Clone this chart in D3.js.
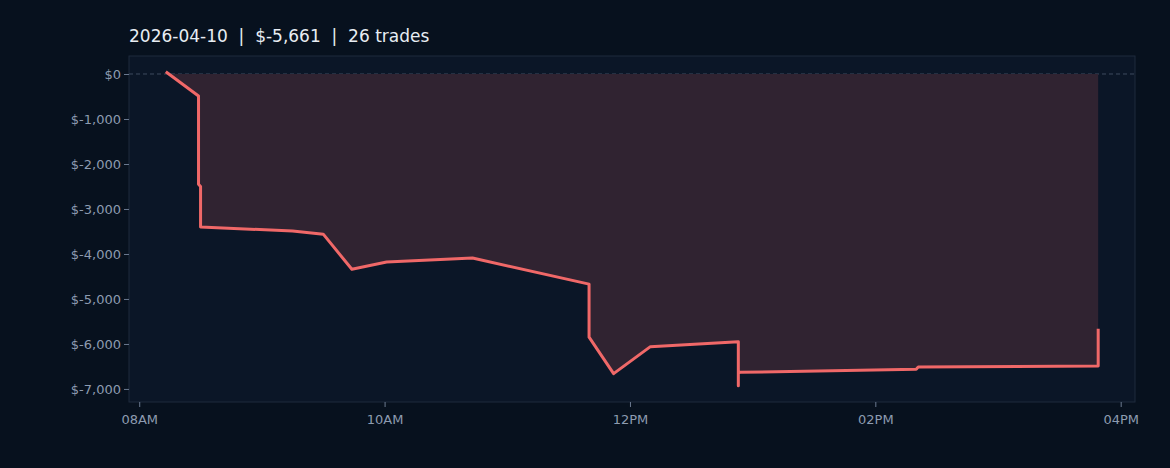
<!DOCTYPE html>
<html><head><meta charset="utf-8">
<script src="https://cdn.jsdelivr.net/npm/d3@7"></script>
<style>
body{margin:0;background:#07111e;}
text{font-family:"DejaVu Sans",sans-serif;}
</style></head><body>
<svg id="chart" width="1170" height="468"></svg>
<script>
// trade times (HH:MM) and cumulative P&L
var times = ["08:13","08:29","08:29","08:29","08:30","08:30","09:15","09:30","09:44","10:01","10:43",
  "11:40","11:40","11:52","12:10","12:53","12:53","12:53","12:54","14:20","14:21","14:21","15:49","15:49","15:49","15:49"];
var pnl = [50,-490,-1500,-2450,-2500,-3400,-3490,-3560,-4340,-4180,-4090,
  -4670,-5850,-6660,-6060,-5950,-6930,-6640,-6630,-6560,-6510,-6510,-6490,-6400,-5900,-5661];
var title = "2026-04-10  |  $-5,661  |  26 trades";

var parse = d3.timeParse("%Y-%m-%d %H:%M");
var data = times.map(function(t,i){ return {t: parse("2026-04-10 " + t), v: pnl[i]}; });

var svg = d3.select("#chart");
var margin = {top: 56, right: 35, bottom: 66, left: 129};
var width = 1170 - margin.left - margin.right,
    height = 468 - margin.top - margin.bottom;

var x = d3.scaleTime()
    .domain([parse("2026-04-10 07:55"), parse("2026-04-10 16:07")])
    .range([0, width]);
var y = d3.scaleLinear().domain([-7290, 400]).range([height, 0]);

svg.append("text").attr("x", 129).attr("y", 42)
  .attr("fill", "#e8edf3").style("font-size", "17px")
  .style("white-space", "pre").attr("xml:space", "preserve").text(title);

var g = svg.append("g").attr("transform", "translate(" + margin.left + "," + margin.top + ")");
g.append("rect").attr("width", width).attr("height", height)
  .attr("fill", "#0b1627").attr("stroke", "#1e2b3d");

g.append("line").attr("x1", 0).attr("x2", width).attr("y1", y(0)).attr("y2", y(0))
  .attr("stroke", "#3e4b5e").attr("stroke-dasharray", "4,3");

g.append("path").datum(data)
  .attr("fill", "#302331")
  .attr("d", d3.area().x(function(d){return x(d.t);}).y0(y(0)).y1(function(d){return y(d.v);}));

g.append("path").datum(data)
  .attr("fill", "none").attr("stroke", "#f06868").attr("stroke-width", 3)
  .attr("stroke-linejoin", "round")
  .attr("d", d3.line().x(function(d){return x(d.t);}).y(function(d){return y(d.v);}));

var xAxis = d3.axisBottom(x).ticks(d3.timeHour.every(2)).tickFormat(d3.timeFormat("%I%p")).tickSize(5);
var yAxis = d3.axisLeft(y).tickValues([0,-1000,-2000,-3000,-4000,-5000,-6000,-7000])
  .tickFormat(function(d){ return d === 0 ? "$0" : "$" + d3.format(",")(d).replace("−","-"); }).tickSize(5);

var xa = g.append("g").attr("transform", "translate(0," + height + ")").call(xAxis);
var ya = g.append("g").call(yAxis);
[xa, ya].forEach(function(a){
  a.select(".domain").remove();
  a.selectAll("line").attr("stroke", "#6b7a90");
  a.selectAll("text").attr("fill", "#8d9bb0").style("font-size", "13px");
});
xa.selectAll("text").attr("dy", "1.1em");
</script>
</body></html>
